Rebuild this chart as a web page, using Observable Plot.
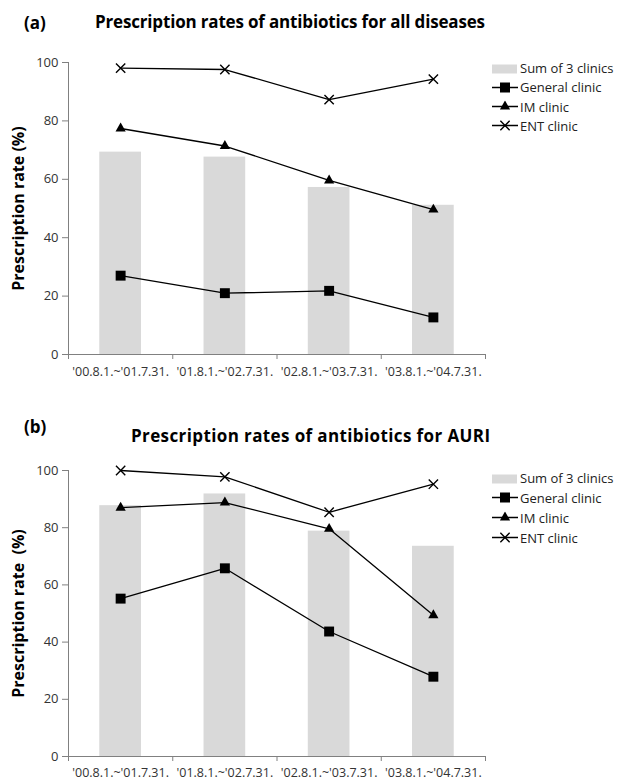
<!DOCTYPE html>
<html><head><meta charset="utf-8">
<script src="https://cdn.jsdelivr.net/npm/d3@7"></script>
<script src="https://cdn.jsdelivr.net/npm/@observablehq/plot@0.6"></script>
<style>
body{margin:0;background:#fff;font-family:"Open Sans",sans-serif;color:#000;}
.panel{position:relative;width:626px;}
.abs{position:absolute;white-space:nowrap;line-height:1;transform:translateY(-50%);}
.tag{font-weight:bold;font-size:17px;}
.title{font-weight:bold;font-size:17px;}
.legend{position:absolute;font-size:13px;color:#222;}
.row{position:absolute;left:0;white-space:nowrap;transform:translateY(-50%);display:flex;align-items:center;line-height:1;}
.row svg{margin-right:1px;}
g[aria-label="y-axis label"] text{font-size:16px;font-weight:bold;fill:#000;}
</style></head>
<body>
<div id="root"></div>
<script>
const periods = ["'00.8.1.~'01.7.31.", "'01.8.1.~'02.7.31.", "'02.8.1.~'03.7.31.", "'03.8.1.~'04.7.31."];
const seriesNames = ["Sum of 3 clinics", "General clinic", "IM clinic", "ENT clinic"];
const yTicks = [0, 20, 40, 60, 80, 100];
// (a) all diseases
const sumA = [69.3, 67.6, 57.2, 51.1];
const generalA = [27.0, 21.0, 21.8, 12.7];
const imA = [77.4, 71.4, 59.6, 49.6];
const entA = [98.1, 97.6, 87.3, 94.3];
// (b) AURI
const sumB = [87.7, 91.8, 78.8, 73.5];
const generalB = [55.2, 65.8, 43.7, 27.9];
const imB = [87.0, 88.8, 79.6, 49.4];
const entB = [100, 97.8, 85.4, 95.2];

const AX = "#808080";
function chart({sum, general, im, ent, height, marginTop, marginBottom, ylabel, tickPad}) {
  const idx = periods.map((p, i) => i);
  const bars = idx.map(i => ({x1: i + 0.3, x2: i + 0.7, y: sum[i]}));
  const pts = arr => idx.map(i => ({x: i + 0.5, y: arr[i]}));
  const g = pts(general), m = pts(im), e = pts(ent);
  return Plot.plot({
    width: 626, height, marginLeft: 68, marginRight: 141, marginTop, marginBottom,
    style: {fontFamily: "Open Sans", fontSize: "13px", color: "#333", background: "#fff", overflow: "visible"},
    x: {domain: [0, 4]},
    y: {domain: [0, 100]},
    marks: [
      Plot.rectY(bars, {x1: "x1", x2: "x2", y: "y", fill: "#d9d9d9"}),
      Plot.frame({anchor: "left", stroke: AX}),
      Plot.frame({anchor: "bottom", stroke: AX}),
      Plot.axisY({ticks: yTicks, tickSize: 6, tickPadding: 4, stroke: AX, fill: "#333", label: ylabel, labelAnchor: "center", labelOffset: 56, labelArrow: "none"}),
      Plot.axisX({ticks: [0, 1, 2, 3, 4], tickSize: 5, tickFormat: () => "", stroke: AX, label: null}),
      Plot.axisX({ticks: idx.map(i => i + 0.5), tickSize: 0, tickPadding: tickPad, tickFormat: d => periods[Math.floor(d)], fontSize: 12.5, fill: "#333", label: null}),
      Plot.line(e, {x: "x", y: "y", stroke: "black", strokeWidth: 1.3}),
      Plot.line(m, {x: "x", y: "y", stroke: "black", strokeWidth: 1.3}),
      Plot.line(g, {x: "x", y: "y", stroke: "black", strokeWidth: 1.3}),
      Plot.dot(e, {x: "x", y: "y", symbol: "times", stroke: "black", strokeWidth: 1.4, r: 4.3}),
      Plot.dot(m, {x: "x", y: "y", symbol: "triangle", fill: "black", r: 3.8}),
      Plot.dot(g, {x: "x", y: "y", symbol: "square", fill: "black", r: 5.6})
    ]
  });
}

function swatch(kind) {
  const s = d3.create("svg").attr("width", 27).attr("height", 12);
  if (kind === 0) {
    s.append("rect").attr("x", 0).attr("y", 2).attr("width", 25).attr("height", 9).attr("fill", "#d9d9d9");
  } else {
    s.append("line").attr("x1", 0).attr("x2", 26).attr("y1", 6).attr("y2", 6).attr("stroke", "black").attr("stroke-width", 1.3);
    const sym = [null, d3.symbolSquare, d3.symbolTriangle, d3.symbolTimes][kind];
    const size = [0, 100, 45, 58][kind];
    const p = s.append("path").attr("transform", "translate(13,6)").attr("d", d3.symbol(sym, size)());
    if (kind === 3) p.attr("fill", "none").attr("stroke", "black").attr("stroke-width", 1.4);
    else p.attr("fill", "black");
  }
  return s.node();
}

function fitWidth(el, target) {
  const w = el.getBoundingClientRect().width;
  const n = el.textContent.length - 1;
  el.style.letterSpacing = ((target - w) / n).toFixed(3) + "px";
}

function panel({tag, tagX, tagY, title, titleX, titleY, titleW, legendTop, legendStep, chartOpts}) {
  const div = document.createElement("div");
  div.className = "panel";
  div.style.height = chartOpts.height + "px";
  div.appendChild(chart(chartOpts));
  const t = document.createElement("div");
  t.className = "abs tag"; t.textContent = tag; t.style.left = tagX + "px"; t.style.top = tagY + "px";
  div.appendChild(t);
  const tt = document.createElement("div");
  tt.className = "abs title"; tt.textContent = title; tt.style.left = titleX + "px"; tt.style.top = titleY + "px";
  tt.dataset.w = titleW;
  div.appendChild(tt);
  const lg = document.createElement("div");
  lg.className = "legend"; lg.style.left = "492px"; lg.style.top = legendTop + "px";
  seriesNames.forEach((n, i) => {
    const r = document.createElement("div");
    r.className = "row"; r.style.top = (i * legendStep) + "px";
    r.appendChild(swatch(i));
    const sp = document.createElement("span"); sp.textContent = n; r.appendChild(sp);
    lg.appendChild(r);
  });
  div.appendChild(lg);
  return div;
}

const root = document.getElementById("root");
root.appendChild(panel({
  tag: "(a)", tagX: 24, tagY: 22, title: "Prescription rates of antibiotics for all diseases", titleX: 95, titleY: 21, titleW: 390,
  legendTop: 68, legendStep: 19.3,
  chartOpts: {sum: sumA, general: generalA, im: imA, ent: entA, height: 395, marginTop: 62, marginBottom: 41, ylabel: "Prescription rate (%)", tickPad: 13}
}));
root.appendChild(panel({
  tag: "(b)", tagX: 24, tagY: 31, title: "Prescription rates of antibiotics for AURI", titleX: 131, titleY: 40, titleW: 359,
  legendTop: 83, legendStep: 19.9,
  chartOpts: {sum: sumB, general: generalB, im: imB, ent: entB, height: 388, marginTop: 75, marginBottom: 27, ylabel: "Prescription rate  (%)", tickPad: 12}
}));
document.querySelectorAll(".title").forEach(el => fitWidth(el, +el.dataset.w));
</script>
</body></html>
